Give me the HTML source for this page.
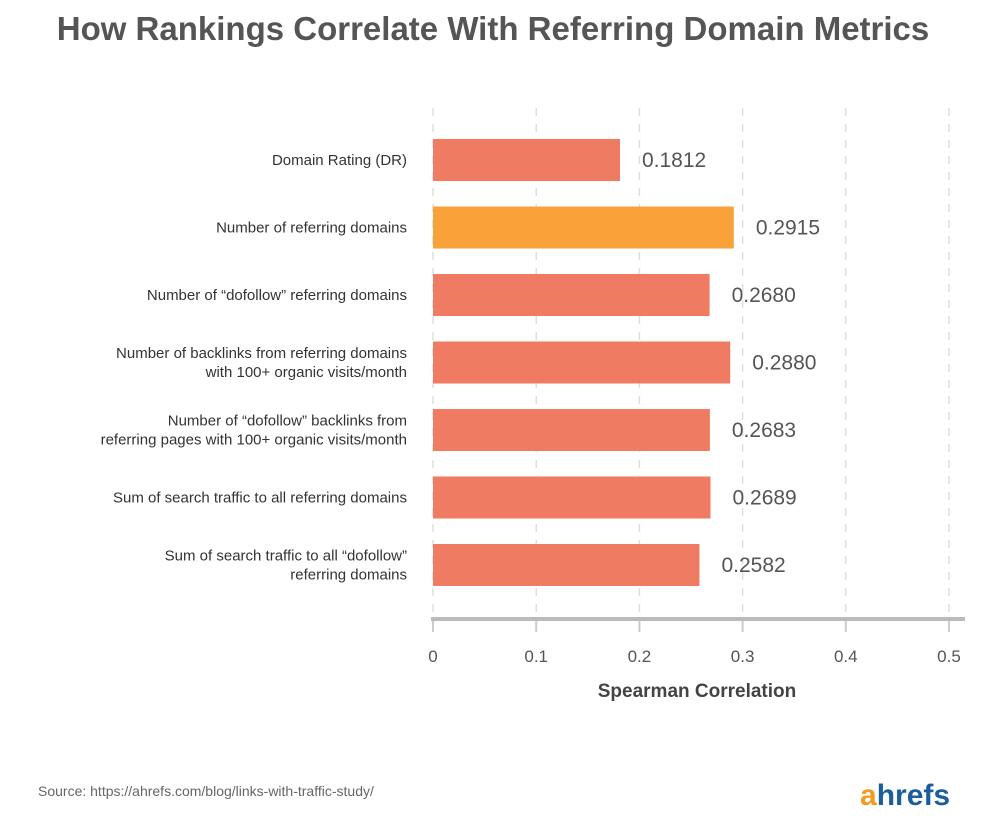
<!DOCTYPE html>
<html><head><meta charset="utf-8"><style>
body{margin:0;background:#fff;width:986px;height:813px;overflow:hidden;font-family:"Liberation Sans",sans-serif}
</style></head><body>
<svg width="986" height="813">
<text x="493" y="40" text-anchor="middle" font-size="33" font-weight="bold" fill="#555">How Rankings Correlate With Referring Domain Metrics</text>
<g id="grid"></g><g id="bars"></g><g id="axis"></g>
<text x="697" y="697" text-anchor="middle" font-size="19" font-weight="bold" fill="#444">Spearman Correlation</text>
<text x="38" y="796" font-size="14" fill="#666">Source:   https://ahrefs.com/blog/links-with-traffic-study/</text>
<text x="860" y="805" font-size="30" font-weight="bold"><tspan fill="#f39a1f">a</tspan><tspan fill="#1c5d9c">hrefs</tspan></text>
</svg>
<script>
const categories=[["Domain Rating (DR)"],["Number of referring domains"],["Number of “dofollow” referring domains"],["Number of backlinks from referring domains","with 100+ organic visits/month"],["Number of “dofollow” backlinks from","referring pages with 100+ organic visits/month"],["Sum of search traffic to all referring domains"],["Sum of search traffic to all “dofollow”","referring domains"]];
const values=[0.1812,0.2915,0.2680,0.2880,0.2683,0.2689,0.2582];
const labels=["0.1812","0.2915","0.2680","0.2880","0.2683","0.2689","0.2582"];
const ticks=[0,0.1,0.2,0.3,0.4,0.5];
const tickLabels=["0","0.1","0.2","0.3","0.4","0.5"];
const NS="http://www.w3.org/2000/svg";
const x=v=>433+v*1032;
const yc=i=>160+i*67.5;
function mk(t,a,p){const e=document.createElementNS(NS,t);for(const k in a)e.setAttribute(k,a[k]);p.appendChild(e);return e;}
const grid=document.getElementById('grid'),bars=document.getElementById('bars'),axis=document.getElementById('axis');
ticks.forEach((t,i)=>{
 const g=mk('line',{x1:x(t),x2:x(t),y1:108,y2:612,stroke:'#ddd','stroke-width':1.5,'stroke-dasharray':'8,8'},grid);
 
 
 const tk=mk('line',{x1:x(t),x2:x(t),y1:619,y2:632,stroke:'#ccc','stroke-width':2},axis);
 
 
 const tl=mk('text',{x:x(t),y:662,'text-anchor':'middle','font-size':17,fill:'#555'},axis);
 tl.textContent=tickLabels[i];
 
 
});
const al=mk('line',{x1:431,x2:965,y1:619,y2:619,stroke:'#bbb','stroke-width':4},axis);


values.forEach((v,i)=>{
 const r=mk('rect',{x:x(0),y:yc(i)-21,width:x(v)-x(0),height:42,fill:i===1?'#f9a23a':'#f07b63'},bars);
 
 
 const vl=mk('text',{x:x(v)+22,y:yc(i)+7,'font-size':21,fill:'#555'},bars);
 vl.textContent=labels[i];
 
 
 const lines=categories[i];
 lines.forEach((ln,j)=>{
  const ct=mk('text',{x:407,y:yc(i)+5+(j-(lines.length-1)/2)*19,'text-anchor':'end','font-size':15,fill:'#333'},bars);
  ct.textContent=ln;
  
  
 });
});
</script>
</body></html>
